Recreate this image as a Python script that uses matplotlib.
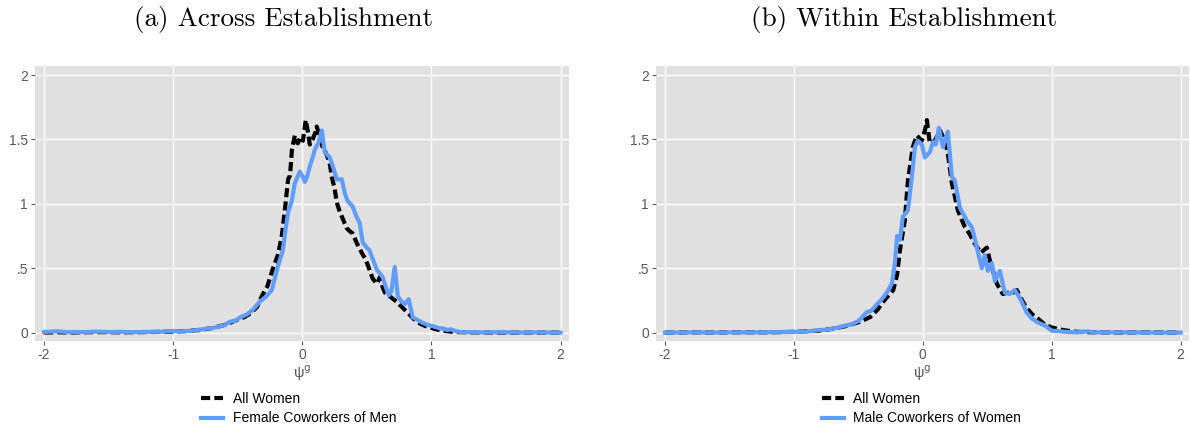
import numpy as np
import matplotlib

matplotlib.use("Agg")
import matplotlib.pyplot as plt

# panel (a): across establishment
a_women_x = [-2.0, -1.9, -1.8, -1.6, -1.4, -1.2, -1.1, -1.0, -0.9, -0.8, -0.7, -0.6, -0.55, -0.5, -0.45,
             -0.4, -0.35, -0.31, -0.27, -0.23, -0.19, -0.16, -0.135, -0.11, -0.095, -0.08, -0.058, -0.035,
             -0.01, 0.005, 0.027, 0.045, 0.058, 0.08, 0.1, 0.112, 0.135, 0.158, 0.18, 0.197, 0.215, 0.228,
             0.25, 0.267, 0.29, 0.315, 0.344, 0.365, 0.39, 0.42, 0.46, 0.49, 0.52, 0.545, 0.56, 0.58, 0.6,
             0.62, 0.64, 0.68, 0.73, 0.77, 0.816, 0.85, 0.886, 0.93, 0.985, 1.04, 1.09, 1.15, 1.2, 1.3, 1.4,
             1.6, 1.8, 2.0]
a_women_y = [0.0, 0.003, 0.0, 0.004, 0.002, 0.004, 0.006, 0.008, 0.012, 0.02, 0.035, 0.06, 0.08, 0.1, 0.12,
             0.15, 0.2, 0.29, 0.36, 0.49, 0.6, 0.74, 0.95, 1.19, 1.22, 1.42, 1.53, 1.47,
             1.52, 1.49, 1.65, 1.55, 1.46, 1.50, 1.55, 1.60, 1.52, 1.44, 1.40, 1.36, 1.30, 1.21,
             1.12, 1.01, 0.94, 0.88, 0.81, 0.79, 0.77, 0.70, 0.62, 0.57, 0.49, 0.42, 0.40, 0.38, 0.43,
             0.36, 0.31, 0.28, 0.24, 0.2, 0.155, 0.12, 0.085, 0.06, 0.04, 0.025, 0.015, 0.008, 0.004, 0.002, 0.001,
             0.0, 0.001, 0.0]

a_cow_x = [-2.0, -1.9, -1.8, -1.7, -1.6, -1.5, -1.4, -1.3, -1.2, -1.1, -1.0, -0.95, -0.9, -0.85, -0.8, -0.75,
           -0.7, -0.65, -0.6, -0.56, -0.52, -0.48, -0.43, -0.38, -0.33, -0.28, -0.236, -0.19, -0.15, -0.13,
           -0.11, -0.08, -0.058, -0.02, 0.004, 0.02, 0.04, 0.058, 0.08, 0.097, 0.128, 0.151, 0.174, 0.213,
           0.24, 0.267, 0.306, 0.33, 0.352, 0.39, 0.42, 0.445, 0.468, 0.5, 0.52, 0.55, 0.576, 0.6, 0.623,
           0.645, 0.67, 0.69, 0.716, 0.74, 0.77, 0.793, 0.824, 0.855, 0.89, 0.925, 0.97, 1.01, 1.06, 1.1,
           1.12, 1.15, 1.2, 1.25, 1.3, 1.4, 1.5, 1.6, 1.7, 1.8, 1.9, 2.0]
a_cow_y = [0.005, 0.01, 0.003, 0.004, 0.008, 0.005, 0.006, 0.004, 0.006, 0.007, 0.013, 0.01, 0.012, 0.015, 0.022, 0.03,
           0.035, 0.045, 0.06, 0.085, 0.09, 0.12, 0.14, 0.18, 0.24, 0.28, 0.33, 0.51, 0.64, 0.8,
           0.93, 1.03, 1.16, 1.25, 1.21, 1.17, 1.22, 1.29, 1.36, 1.42, 1.48, 1.57, 1.40, 1.36,
           1.28, 1.19, 1.19, 1.08, 1.02, 0.98, 0.90, 0.85, 0.70, 0.66, 0.64, 0.56, 0.49, 0.46, 0.43,
           0.36, 0.29, 0.32, 0.51, 0.28, 0.24, 0.22, 0.26, 0.12, 0.1, 0.08, 0.06, 0.05, 0.035, 0.03,
           0.02, 0.025, 0.008, 0.003, 0.004, 0.002, 0.003, 0.002, 0.001, 0.002, 0.001, 0.0]

# panel (b): within establishment
b_women_x = [-2.0, -1.8, -1.6, -1.4, -1.2, -1.0, -0.9, -0.8, -0.7, -0.6, -0.5, -0.41, -0.35, -0.3, -0.23, -0.2,
             -0.178, -0.14, -0.116, -0.078, -0.047, -0.008, 0.016, 0.031, 0.054, 0.093, 0.132, 0.171, 0.194,
             0.225, 0.25, 0.271, 0.3, 0.326, 0.36, 0.403, 0.45, 0.496, 0.52, 0.55, 0.574, 0.62, 0.66, 0.7,
             0.729, 0.77, 0.806, 0.85, 0.89, 0.95, 1.0, 1.06, 1.12, 1.2, 1.3, 1.5, 1.7, 2.0]
b_women_y = [0.0, 0.002, 0.001, 0.003, 0.002, 0.006, 0.01, 0.015, 0.03, 0.05, 0.08, 0.12, 0.18, 0.25, 0.33, 0.45,
             0.64, 0.87, 1.18, 1.44, 1.53, 1.49, 1.57, 1.65, 1.47, 1.49, 1.57, 1.49, 1.39,
             1.16, 1.05, 0.95, 0.88, 0.82, 0.77, 0.69, 0.62, 0.66, 0.56, 0.46, 0.38, 0.30, 0.31, 0.31,
             0.33, 0.25, 0.19, 0.14, 0.11, 0.06, 0.04, 0.025, 0.015, 0.006, 0.003, 0.001, 0.002, 0.0]

b_cow_x = [-2.0, -1.8, -1.6, -1.4, -1.2, -1.0, -0.9, -0.84, -0.8, -0.75, -0.7, -0.6, -0.55, -0.5, -0.434, -0.4,
           -0.357, -0.318, -0.28, -0.24, -0.217, -0.2, -0.178, -0.155, -0.116, -0.085, -0.062, -0.039,
           -0.008, 0.016, 0.054, 0.078, 0.1, 0.124, 0.155, 0.194, 0.225, 0.248, 0.287, 0.341, 0.38, 0.419,
           0.457, 0.48, 0.504, 0.535, 0.558, 0.597, 0.636, 0.674, 0.713, 0.752, 0.806, 0.845, 0.89, 0.946,
           1.0, 1.05, 1.12, 1.2, 1.28, 1.32, 1.5, 1.7, 2.0]
b_cow_y = [0.0, 0.002, 0.001, 0.002, 0.003, 0.006, 0.008, 0.015, 0.02, 0.022, 0.03, 0.055, 0.065, 0.09, 0.16, 0.17,
           0.22, 0.26, 0.31, 0.38, 0.54, 0.75, 0.72, 0.90, 0.95, 1.21, 1.44, 1.49,
           1.46, 1.36, 1.40, 1.48, 1.46, 1.59, 1.44, 1.56, 1.21, 1.18, 0.97, 0.87, 0.82, 0.66,
           0.50, 0.60, 0.48, 0.54, 0.40, 0.48, 0.31, 0.30, 0.33, 0.27, 0.155, 0.11, 0.08, 0.055,
           0.015, 0.012, 0.005, 0.002, 0.01, 0.002, 0.002, 0.001, 0.0]

titles = ["(a) Across Establishment", "(b) Within Establishment"]
women_label = "All Women"
cow_labels = ["Female Coworkers of Men", "Male Coworkers of Women"]
x_ticks = [-2, -1, 0, 1, 2]
x_ticklabels = ["-2", "-1", "0", "1", "2"]
y_ticks = [0, 0.5, 1, 1.5, 2]
y_ticklabels = ["0", ".5", "1", "1.5", "2"]

BLUE = "#619CFF"
BG = "#E0E0E0"
TICK = "#5a5a5a"

plt.rcParams["font.family"] = ["Liberation Sans", "DejaVu Sans"]

fig = plt.figure(figsize=(11.9, 4.3), dpi=100)
axes = [fig.add_axes([0.0294, 0.207, 0.4487, 0.6395]),
        fig.add_axes([0.5513, 0.207, 0.4479, 0.6395])]

panels = [(a_women_x, a_women_y, a_cow_x, a_cow_y),
          (b_women_x, b_women_y, b_cow_x, b_cow_y)]

for i, ax in enumerate(axes):
    wx, wy, cx, cy = panels[i]
    ax.set_facecolor(BG)
    for s in ax.spines.values():
        s.set_visible(False)
    ax.grid(True, color="white", lw=1.0)
    ax.set_axisbelow(True)
    ax.plot(wx, wy, color="black", lw=3.0, ls=(0, (2.2, 1.0)), label=women_label, zorder=3)
    ax.plot(cx, cy, color=BLUE, lw=3.0, label=cow_labels[i], zorder=4)
    ax.set_xlim(-2.07, 2.065)
    ax.set_ylim(-0.065, 2.07)
    ax.set_xticks(x_ticks)
    ax.set_xticklabels(x_ticklabels)
    ax.set_yticks(y_ticks)
    ax.set_yticklabels(y_ticklabels)
    ax.tick_params(colors=TICK, labelsize=10, length=3, width=0.8, pad=2)
    ax.set_xlabel("ψ$^{\\mathrm{g}}$", fontsize=10.5, color=TICK, labelpad=1)
    pos = ax.get_position()
    fig.text((pos.x0 + pos.x1) / 2 - 18 / 1190, 0.955, titles[i],
             family="cmr10", fontsize=19.5, ha="center", va="center")
    ax.legend(loc="upper left", bbox_to_anchor=(0.3, -0.165), frameon=False, fontsize=10,
              handlelength=1.6, handletextpad=0.7, labelspacing=0.4, borderaxespad=0)

fig.savefig("out.png", dpi=100)
